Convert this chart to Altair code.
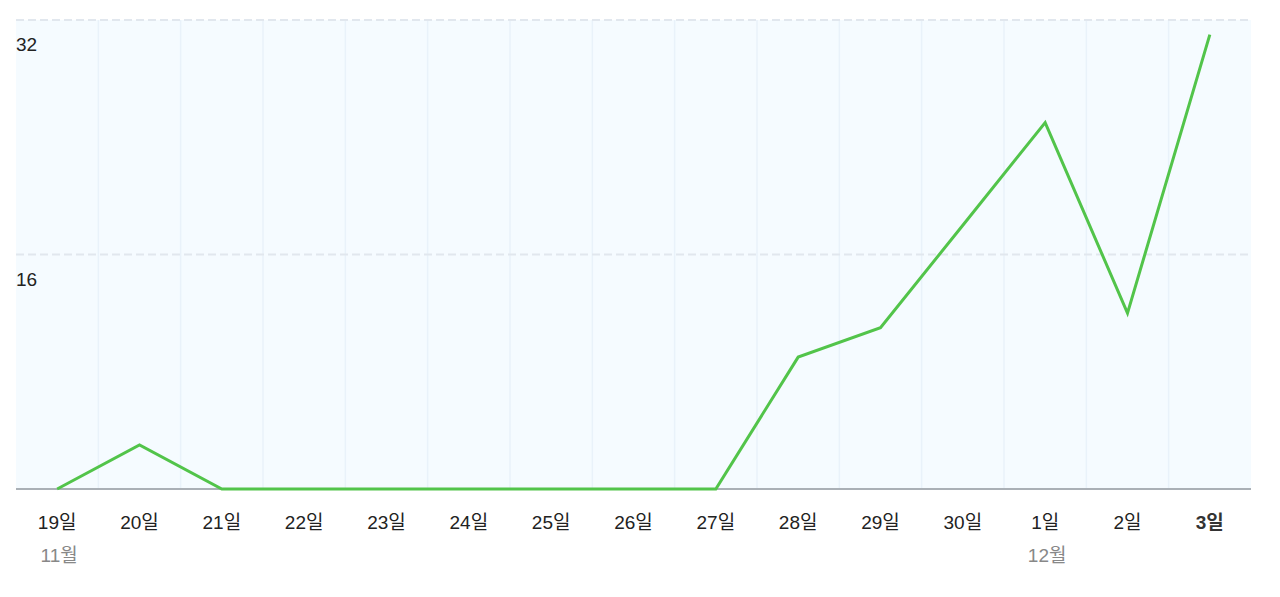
import altair as alt
import pandas as pd

day_labels = ["19일", "20일", "21일", "22일", "23일", "24일", "25일", "26일",
              "27일", "28일", "29일", "30일", "1일", "2일", "3일"]
month_labels = ["11월", "", "", "", "", "", "", "", "", "", "", "", "12월", "", ""]
values = [0, 3, 0, 0, 0, 0, 0, 0, 0, 9, 11, 18, 25, 12, 31]
y_ticks = [16, 32]

W, H = 1235, 469
FONT = "Liberation Sans, Noto Sans CJK KR, sans-serif"
FS = 19

n = len(day_labels)
df = pd.DataFrame({
    "i": list(range(n)),
    "day": day_labels,
    "month": month_labels,
    "v": values,
    "last": [k == n - 1 for k in range(n)],
})
grid_df = pd.DataFrame({"g": [k + 0.5 for k in range(n - 1)]})
ydf = pd.DataFrame({"t": y_ticks, "lab": [str(t) for t in y_ticks]})

xs = alt.Scale(domain=[-0.5, n - 0.5], nice=False, zero=False)
ys = alt.Scale(domain=[0, 32], nice=False)

vgrid = alt.Chart(grid_df).mark_rule(color="#e9f2fa", strokeWidth=1.5).encode(
    x=alt.X("g:Q", scale=xs, axis=None),
    y=alt.value(0), y2=alt.value(H),
)

hgrid = alt.Chart(ydf).mark_rule(color="#e1e7ee", strokeWidth=2, strokeDash=[8, 4]).encode(
    y=alt.Y("t:Q", scale=ys, axis=None),
    x=alt.value(0), x2=alt.value(W),
)

ylab = alt.Chart(ydf).mark_text(align="left", baseline="middle", dy=25, fontSize=FS,
                                font=FONT, color="#222").encode(
    y=alt.Y("t:Q", scale=ys, axis=None),
    x=alt.value(0),
    text="lab:N",
)

base = alt.Chart(df).mark_rule(color="#aab0b6", strokeWidth=1.5).encode(
    x=alt.value(0), x2=alt.value(W), y=alt.value(H),
)

line = alt.Chart(df).mark_line(color="#52c44a", strokeWidth=3, strokeJoin="miter").encode(
    x=alt.X("i:Q", scale=xs, axis=None),
    y=alt.Y("v:Q", scale=ys, axis=None),
)

days = alt.Chart(df).transform_filter("!datum.last").mark_text(
    baseline="middle", fontSize=FS, font=FONT, color="#222").encode(
    x=alt.X("i:Q", scale=xs, axis=None),
    y=alt.value(H + 34),
    text="day:N",
)

days_last = alt.Chart(df).transform_filter("datum.last").mark_text(
    baseline="middle", fontSize=FS, font=FONT, color="#333", fontWeight="bold").encode(
    x=alt.X("i:Q", scale=xs, axis=None),
    y=alt.value(H + 34),
    text="day:N",
)

months = alt.Chart(df).mark_text(baseline="middle", fontSize=FS, font=FONT,
                                 color="#888", dx=2).encode(
    x=alt.X("i:Q", scale=xs, axis=None),
    y=alt.value(H + 67),
    text="month:N",
)

chart = alt.layer(vgrid, hgrid, base, line, ylab, days, days_last, months).properties(
    width=W, height=H,
    autosize=alt.AutoSizeParams(type="none"),
    padding={"left": 8, "top": 12, "right": 20, "bottom": 95},
).configure_view(fill="#f5fbff", stroke=None)

chart.save("out.html", embed_options={"renderer": "svg", "actions": False})
